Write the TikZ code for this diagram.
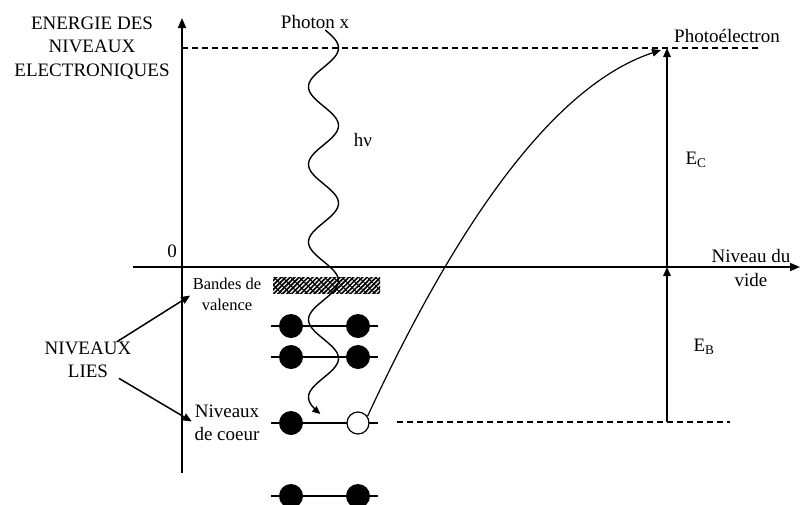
\documentclass[tikz,border=0pt]{standalone}
\usepackage{fontspec}
\setmainfont{Liberation Serif}
\usetikzlibrary{arrows.meta, positioning, calc, patterns.meta}

\begin{document}
\begin{tikzpicture}[x=1pt, y=-1pt,
  lbl/.style={align=center, font=\fontsize{19}{23.5}\selectfont, inner sep=0pt},
  petit/.style={align=center, font=\fontsize{16.5}{21}\selectfont, inner sep=0pt},
  plein/.style={circle, fill=black, minimum size=24pt, inner sep=0pt},
  creux/.style={circle, draw=black, line width=1.2pt, fill=white, minimum size=22pt, inner sep=0pt},
  niv/.style={line width=1.6pt},
  axe/.style={-{Triangle[length=10pt,width=8pt]}, line width=1.7pt},
  arr/.style={-{Triangle[length=9pt,width=7.5pt]}, line width=1.5pt},
  tir/.style={dash pattern=on 6pt off 4pt, line width=1.5pt}
]
\useasboundingbox (0,0) rectangle (801,504);
% Axes
\coordinate (ybas) at (182,473);
\coordinate (yhaut) at (182,18);
\coordinate (xgauche) at (133,267);
\coordinate (xdroite) at (800,267);
\draw[axe] (ybas) -- (yhaut);
\draw[axe] (xgauche) -- (xdroite);
\node[lbl] (zero) at (172,251) {0};
\node[lbl] (energie) at (92,48) {ENERGIE DES\\NIVEAUX\\ELECTRONIQUES};
% Niveaux d'energie
\coordinate (photo) at (667,48);
\coordinate (vacuum) at (667,267);
\coordinate (coeur) at (667,422);
\draw[tir] (182,48) -- (760,48);
\draw[tir] (397,422) -- (730,422);
\draw[arr] (vacuum) -- (photo);
\draw[arr] (coeur) -- (vacuum);
\node[lbl] (ec) at (696,160) {E\textsubscript{C}};
\node[lbl] (eb) at (704,347) {E\textsubscript{B}};
\node[lbl] (niveauvide) at (751,268) {Niveau du\\vide};
\node[lbl] (photoel) at (727,36) {Photoélectron};
% Bandes et niveaux lies
\fill[pattern={Lines[angle=45,distance=3.2pt,line width=1.7pt]}] (273,277) rectangle (380,293);
\fill[pattern={Lines[angle=-45,distance=6pt,line width=1pt]}] (273,277) rectangle (380,293);
\foreach \y/\n in {326/a, 357/b, 496/d} {
  \draw[niv] (271,\y) -- (378,\y);
  \node[plein] (g\n) at (291,\y) {};
  \node[plein] (d\n) at (358,\y) {};
}
\draw[niv] (271,423) -- (378,423);
\node[plein] (gc) at (291,423) {};
\node[creux] (trou) at (358,423) {};
\node[petit] (bandes) at (227,294) {Bandes de\\valence};
\node[lbl] (niveaux) at (227,423) {Niveaux\\de coeur};
\node[lbl] (lies) at (88,360) {NIVEAUX\\LIES};
\draw[arr, shorten >=3pt] (lies) -- (bandes.west);
\draw[arr, shorten >=3pt] (lies) -- (niveaux.west);
% Photon x
\node[lbl] (photon) at (315,22) {Photon x};
\node[lbl] (hnu) at (363,140) {hν};
\draw[line width=1.4pt, -{Triangle[length=8pt,width=7pt]}]
  plot[domain=30:414, samples=200, smooth] ({323.5+15*cos(4.6392*(\x-48))}, \x);
% Photoelectron
\coordinate (pe) at (661,50);
\draw[arr, line width=1.2pt] (trou.35) .. controls (440,260) and (540,90) .. (pe);
\end{tikzpicture}
\end{document}
